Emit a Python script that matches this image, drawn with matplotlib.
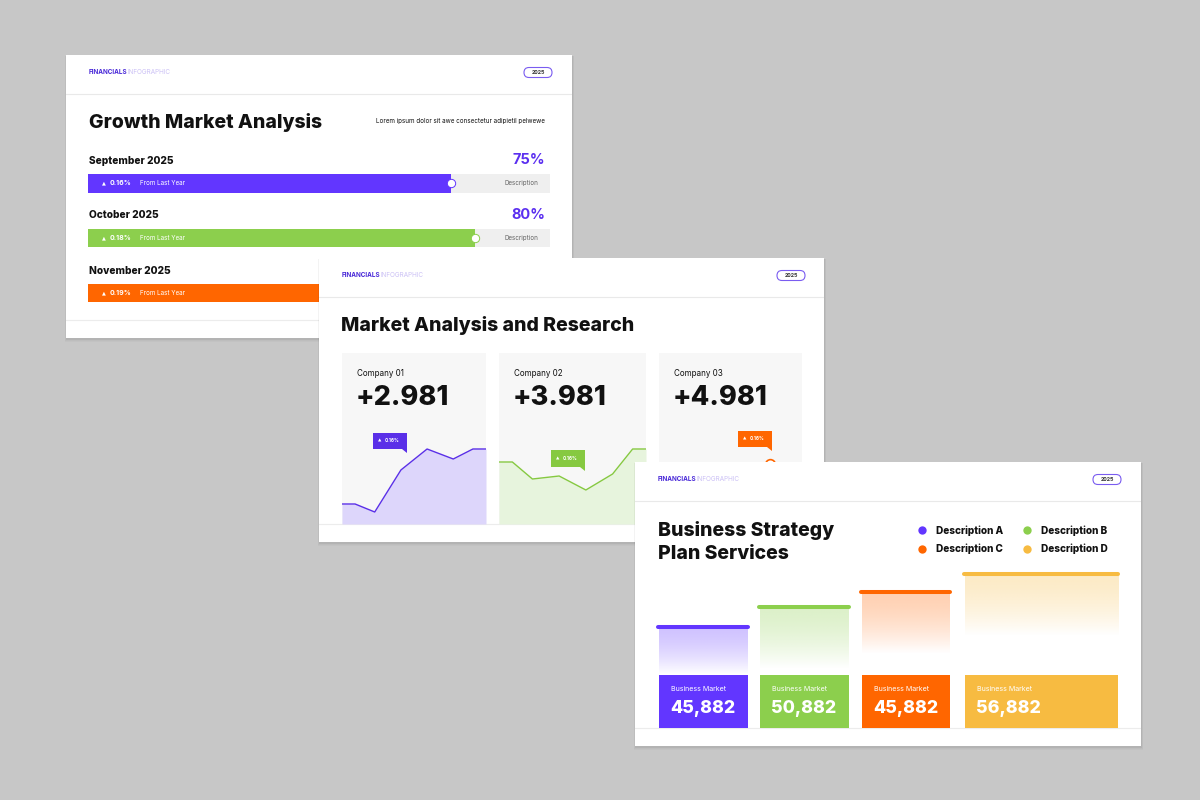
import numpy as np
import matplotlib.pyplot as plt
from matplotlib.patches import Rectangle, FancyBboxPatch, Polygon
from matplotlib.colors import to_rgb

plt.rcParams['font.family'] = ['Inter', 'DejaVu Sans']

W, H = 1200, 800
BG = '#c7c7c7'
PURPLE = '#6236ff'
GREEN = '#8ccf4d'
ORANGE = '#ff6600'
YELLOW = '#f7bb41'
INK = '#111111'

# card 1: progress rows
months = ['September 2025', 'October 2025', 'November 2025']
progress = [75, 80, 85]
growth = ['0.16%', '0.18%', '0.19%']
progress_colors = [PURPLE, GREEN, ORANGE]

# card 2: company trends
companies = ['Company 01', 'Company 02', 'Company 03']
company_totals = ['+2.981', '+3.981', '+4.981']
trend_x = [0, 1, 2.5, 4.5, 6.5, 8.5, 10, 11]
trend_01 = [20, 20, 12, 54, 75, 65, 75, 75]
trend_02 = [62, 62, 45, 48, 34, 50, 75, 75]
trend_03 = [30, 34, 26, 38, 44, 60, 50, 47]
trend_tags = ['0.16%', '0.16%', '0.16%']

# card 3: business market
descriptions = ['Description A', 'Description B', 'Description C', 'Description D']
market_values = ['45,882', '50,882', '45,882', '56,882']
market_heights = [101, 121, 136, 154]

fig = plt.figure(figsize=(12, 8), dpi=100, facecolor=BG)


def px_axes(x0, y0, x1, y1, z):
    ax = fig.add_axes([x0 / W, 1 - y1 / H, (x1 - x0) / W, (y1 - y0) / H], zorder=z)
    ax.set_axis_off()
    return ax


def card(x0, y0, x1, y1, z):
    # soft drop shadow
    sh = px_axes(0, 0, W, H, z - 1)
    sh.set_xlim(0, W)
    sh.set_ylim(H, 0)
    for i in range(4):
        sh.add_patch(Rectangle((x0 - 0.5 * i, y0 + 1), x1 - x0 + 1.0 * i + 0.5, y1 - y0 + 0.5 + 0.8 * i,
                               fc='black', alpha=0.022, lw=0))
    ax = px_axes(x0, y0, x1, y1, z)
    w, h = x1 - x0, y1 - y0
    ax.set_xlim(0, w)
    ax.set_ylim(h, 0)
    ax.add_patch(Rectangle((0, 0), w, h, fc='white', lw=0))
    t = ax.text(23, 17, 'FINANCIALS', fontsize=4.6, fontweight='bold', color='#4a2ad8',
                va='center', ha='left')
    ax.annotate('INFOGRAPHIC', xy=(1, 0.5), xycoords=t, fontsize=4.6, color='#cbc0f5',
                va='center', ha='left')
    ax.add_patch(FancyBboxPatch((458, 12.5), 28, 10, boxstyle='round,pad=0,rounding_size=5',
                                fc='white', ec='#7a5cf0', lw=0.8))
    ax.text(472, 17.6, '2025', fontsize=3.8, fontweight='bold', color='#333333',
            ha='center', va='center')
    ax.plot([0, w], [39, 39], color='#e9e9e9', lw=0.8)
    ax.plot([0, w], [h - 18, h - 18], color='#ececec', lw=0.8)
    return ax


# ---------- card 1 ----------
c1 = card(66, 55, 572, 338, 10)
c1.text(23, 67.5, 'Growth Market Analysis', fontsize=14, fontweight='heavy', color=INK,
        va='center', ha='left')
c1.text(479, 66.5, 'Lorem ipsum dolor sit awe consectetur adipietil pelwewe', fontsize=4.5,
        color=INK, va='center', ha='right')

row_tops = [174, 228.5, 283.5]
TRACK = 95.5
for i in range(3):
    ly = row_tops[i] - 55 - 13
    c1.text(23, ly, months[i], fontsize=7.3, fontweight='heavy', color=INK, va='center')
    c1.text(479, ly - 0.5, f'{progress[i]}%', fontsize=10.5, fontweight='bold', color='#5b2ff0',
            va='center', ha='right')
    bx = px_axes(88, row_tops[i], 550, row_tops[i] + 18.5, 11)
    bx.set_xlim(0, TRACK)
    bx.set_ylim(-0.5, 0.5)
    bx.barh(0, TRACK, height=1, color='#efefef')
    bx.barh(0, progress[i], height=1, color=progress_colors[i])
    bx.plot(progress[i], 0, 'o', ms=6, mfc='white', mec=progress_colors[i], mew=0.7, clip_on=False)
    bx.text(0.034, 0.5, '▲', transform=bx.transAxes, fontsize=3.6, color='white',
            va='center', ha='center', family=['DejaVu Sans'])
    bx.text(0.0476, 0.5, growth[i], transform=bx.transAxes, fontsize=5, fontweight='bold',
            color='white', va='center')
    bx.text(0.1126, 0.5, 'From Last Year', transform=bx.transAxes, fontsize=4.5,
            color='white', va='center')
    bx.text(0.975, 0.5, 'Description', transform=bx.transAxes, fontsize=4.5,
            color='#666666', va='center', ha='right')

# ---------- card 2 ----------
c2 = card(319, 258, 824, 542, 20)
c2.text(22, 67.5, 'Market Analysis and Research', fontsize=14, fontweight='heavy', color=INK,
        va='center', ha='left')

panels = [(342, 486), (499, 646), (659, 802)]
trends = [trend_01, trend_02, trend_03]
line_colors = ['#5a2fe8', '#86c941', ORANGE]
fill_colors = ['#ddd6fb', '#e7f4dd', '#fde3d3']
tag_boxes = [(54, 175, 16), (232, 192, 17), (419, 173, 16)]
for i, (p0, p1) in enumerate(panels):
    c2.add_patch(Rectangle((p0 - 319, 95), p1 - p0, 171, fc='#f7f7f7', lw=0))
    c2.text(p0 - 319 + 15, 115, companies[i], fontsize=5.8, color=INK, va='center')
    c2.text(p0 - 319 + 14, 140, company_totals[i], fontsize=19.5, fontweight='heavy',
            color=INK, va='center')
    lx = px_axes(p0, 424, p1, 524, 21)
    lx.set_xlim(0, 11)
    lx.set_ylim(0, 100)
    lx.fill_between(trend_x, trends[i], 0, color=fill_colors[i], lw=0)
    lx.plot(trend_x, trends[i], color=line_colors[i], lw=1.0)
    if i == 2:
        k = int(np.argmax(trends[i]))
        lx.plot(trend_x[k], trends[i][k], 'o', ms=7, mfc='white', mec=line_colors[i],
                mew=1.2, clip_on=False)
    bx0, by0, bh = tag_boxes[i]
    c2.add_patch(Rectangle((bx0, by0), 34, bh, fc=line_colors[i], lw=0))
    c2.add_patch(Polygon([(bx0 + 29, by0 + bh), (bx0 + 34, by0 + bh), (bx0 + 34, by0 + bh + 4)],
                         closed=True, fc=line_colors[i], lw=0))
    c2.text(bx0 + 7, by0 + bh / 2, '▲', fontsize=3.2, color='white', va='center', ha='center',
            family=['DejaVu Sans'])
    c2.text(bx0 + 12, by0 + bh / 2, trend_tags[i], fontsize=3.4, fontweight='bold',
            color='white', va='center')

# ---------- card 3 ----------
c3 = card(635, 462, 1141, 746, 30)
c3.text(23, 68, 'Business Strategy', fontsize=14, fontweight='heavy', color=INK, va='center')
c3.text(23, 92, 'Plan Services', fontsize=14, fontweight='heavy', color=INK, va='center')

bar_colors = [PURPLE, GREEN, ORANGE, YELLOW]
leg_pos = [(286.7, 68.3), (391.7, 68.3), (286.7, 86.7), (391.7, 86.7)]
for (lx_, ly_), name, col in zip(leg_pos, descriptions, bar_colors):
    c3.plot(lx_, ly_, 'o', ms=6, color=col, mew=0)
    c3.text(lx_ + 14, ly_, name, fontsize=7.2, fontweight='heavy', color=INK, va='center')

bar_left = [659, 760, 862, 965]
bar_w = [89, 89, 88, 153]
BOX_H = 53
bax = px_axes(640, 560, 1130, 728, 31)
for i in range(4):
    top = market_heights[i]
    glen = min(62, top - BOX_H)
    grad = np.zeros((64, 1, 4))
    grad[..., :3] = to_rgb(bar_colors[i])
    grad[:, 0, 3] = 0.3 * (1 - np.linspace(0, 1, 64) ** 1.6)
    bax.imshow(grad, extent=(bar_left[i], bar_left[i] + bar_w[i], top - glen, top),
               aspect='auto', origin='upper', interpolation='bilinear')
bax.bar(bar_left, BOX_H, width=bar_w, align='edge', color=bar_colors, lw=0)
caps = bax.hlines(market_heights, [l - 1 for l in bar_left],
                  [l + w for l, w in zip(bar_left, bar_w)], colors=bar_colors, lw=2.9)
caps.set_capstyle('round')
for i in range(4):
    bax.text(bar_left[i] + 12, 39, 'Business Market', fontsize=5.1, color='white', va='center')
    bax.text(bar_left[i] + 11, 19.5, market_values[i], fontsize=12.8, fontweight='heavy',
             color='white', va='center')
bax.set_xlim(640, 1130)
bax.set_ylim(0, 168)

fig.savefig('out.png', dpi=100, facecolor=BG)
